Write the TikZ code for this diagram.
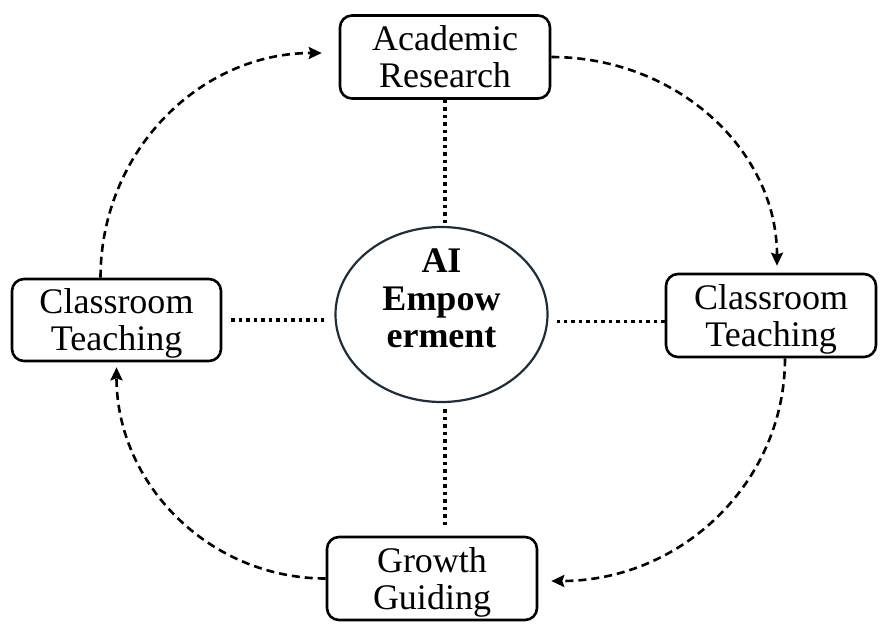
\documentclass[tikz,border=0pt]{standalone}
\usepackage{fontspec}
\setmainfont{Liberation Serif}
\usetikzlibrary{shapes.geometric,arrows.meta}
\definecolor{ellcol}{RGB}{28,45,62}
\begin{document}
\begin{tikzpicture}[x=1pt,y=-1pt,
  box/.style={draw=black, line width=2.6pt, rounded corners=12pt, minimum width=210pt, minimum height=83pt, inner sep=0pt, align=center, font=\fontsize{36}{37}\selectfont, text depth=0pt},
  hub/.style={draw=ellcol, line width=2.2pt, ellipse, minimum width=212pt, minimum height=175pt, inner sep=0pt, align=center, font=\fontsize{36}{37.5}\selectfont\bfseries, text height=70pt, text depth=4pt},
  dotline/.style={line width=3.4pt, dash pattern=on 3.5pt off 4pt},
  flow/.style={line width=2.6pt, dash pattern=on 8pt off 5pt, -{Stealth[length=13pt,width=12pt,inset=2pt]}}]
\useasboundingbox (0,0) rectangle (888,638);
\node[box] (ar) at (445,57) {Academic\\Research};
\node[box, minimum width=209pt, minimum height=82pt] (lct) at (116.5,320) {Classroom\\Teaching};
\node[box] (rct) at (771,315.5) {Classroom\\Teaching};
\node[box] (gg) at (432,578.5) {Growth\\Guiding};
\node[hub] (ai) at (441.5,314.5) {AI\\Empow\\erment};
% dotted links
\draw[dotline] (ar.south) -- (ar.south |- ai.north);
\draw[dotline, shorten <=6pt, shorten >=7pt] (ai.south -| ar.south) -- (gg.north -| ar.south);
\draw[dotline, shorten <=9pt, shorten >=10pt] (lct.east) -- (lct.east -| ai.west);
\draw[dotline, shorten >=8pt] ([yshift=-6pt]rct.west) -- ([yshift=-6pt]rct.west -| ai.east);
% dashed cycle
\draw[flow] ([xshift=-16pt]lct.north) .. controls +(0,-125) and +(-123,0) .. ([xshift=-17pt,yshift=4pt]ar.west);
\draw[flow] (ar.east) .. controls +(125,0) and +(0,-116) .. ([xshift=6pt,yshift=7pt]rct.north);
\draw[flow] ([xshift=14pt]rct.south) .. controls +(0,124) and +(130,0) .. ([xshift=13pt,yshift=-2.5pt]gg.east);
\draw[flow] (gg.west) .. controls +(-116,0) and +(0,117) .. ([yshift=-5pt]lct.south);
\end{tikzpicture}
\end{document}
